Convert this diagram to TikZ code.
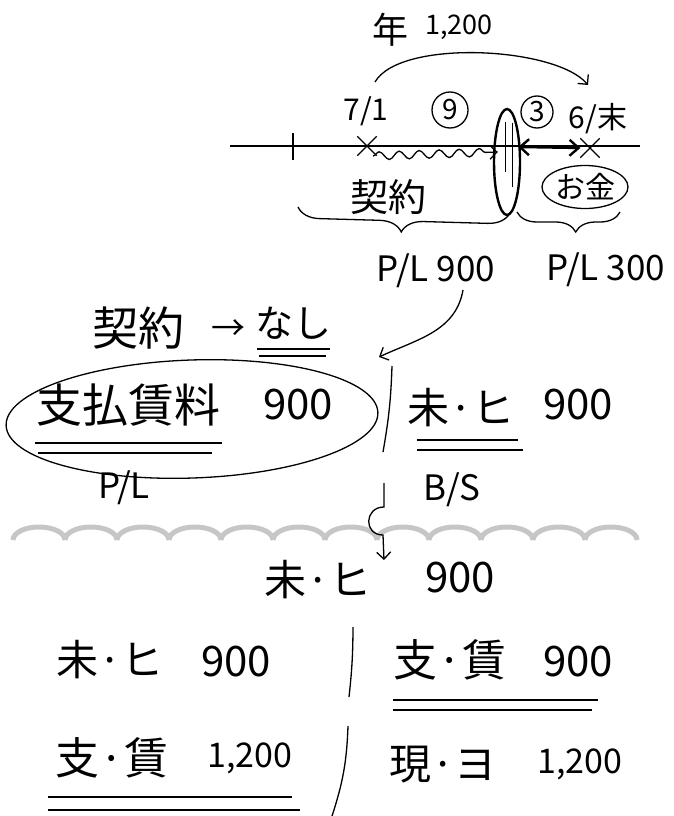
\documentclass[tikz,border=0pt]{standalone}
\usepackage{fontspec}
\setmainfont{Noto Sans CJK JP}
\usepackage{tikz}
\usetikzlibrary{arrows.meta,shapes.geometric,shapes.misc,decorations.pathmorphing,decorations.pathreplacing}

\begin{document}
\begin{tikzpicture}[x=1pt,y=1pt,
    >={Straight Barb[length=7pt,width=14pt]},
    pen/.style={line width=1.3pt},
    ul/.style={line width=2.4pt},
    txt/.style={inner sep=0pt,font=\fontsize{#1}{#1}\selectfont},
    txt/.default=40,
    mark x/.style={draw,pen,cross out,minimum size=18pt,inner sep=0pt}]
  \useasboundingbox (0,0) rectangle (673,-816);
  % time line
  \node[txt=36] (nen) at (390,-30) {年};
  \node[txt=27] (nenamt) at (459,-27) {1,200};
  \coordinate (a1) at (375,-82);
  \coordinate (a2) at (588,-85);
  \draw[pen,->] (a1) to[out=60,in=130,looseness=0.6] (a2);
  \node[txt=30] (d71) at (366,-111) {7/1};
  \node[txt=28,draw,pen,circle,minimum size=36pt] (c9) at (450,-110) {9};
  \node[txt=28,draw,pen,circle,minimum size=32pt] (c3) at (537,-112) {3};
  \node[txt=30] (d6) at (598,-119) {6/末};
  \coordinate (tl0) at (230,-146);
  \coordinate (tl1) at (640,-146);
  \draw[pen] (tl0) -- (tl1);
  \draw[pen] (293,-133) -- (293,-160);
  \node[mark x] (x71) at (367,-146) {};
  \node[mark x] (x6) at (590,-148) {};
  \node[draw,ellipse,line width=2.4pt,minimum width=26pt,minimum height=106pt,inner sep=0pt] (cut) at (507,-162) {};
  \draw[thin] (505,-122) -- (505,-172) (512,-123) -- (512,-187);
  \draw[pen,->,decorate,decoration={snake,amplitude=4pt,segment length=20pt,post length=8pt}]
    ([xshift=6pt,yshift=-10pt]x71.center) -- ([xshift=5pt,yshift=10pt]cut.west);
  \draw[line width=2.4pt,{Straight Barb[length=9pt,width=16pt]}-{Straight Barb[length=9pt,width=16pt]}]
    ([xshift=-3pt,yshift=15pt]cut.east) -- (x6.west);
  \node[txt=38] (keiyaku) at (388,-197) {契約};
  \node[txt=30,draw,pen,ellipse,minimum width=86pt,minimum height=43pt] (okane) at (585,-187) {お金};
  \draw[pen,decorate,decoration={brace,mirror,amplitude=22pt,aspect=0.49}] (298,-207) -- (510,-213);
  \draw[pen,decorate,decoration={brace,mirror,amplitude=20pt,aspect=0.57}] (517,-212) -- (620,-212);
  \node[txt=35] (pl900) at (436,-271) {P/L 900};
  \node[txt=35] (pl300) at (606,-270) {P/L 300};
  \coordinate (k0) at (463,-290);
  \coordinate (tip) at (379,-357);
  \draw[pen,->] (k0) to[out=-100,in=25] (tip);
  % upper T
  \node[txt=46] (keiyaku2) at (138,-328) {契約};
  \node[txt=34] (yaji) at (228,-330) {→};
  \node[txt=38] (nashi) at (293,-323) {なし};
  \node[txt=46] (shiharai) at (128,-405) {支払賃料};
  \node[txt=42] (s900) at (298,-405) {900};
  \draw[pen] (192,-419) ellipse[x radius=186,y radius=59,rotate=2];
  \node[txt=35] (pl) at (124,-488) {P/L};
  \draw[pen] (392,-366) to[bend left=4] (383,-452);
  \node[txt=42] (mihi) at (461,-408) {未·ヒ};
  \node[txt=42] (m900) at (578,-405) {900};
  \node[txt=35] (bs) at (452,-490) {B/S};
  \foreach \i in {0,...,11}
    \draw[gray!45,line width=5pt] ({13+52*\i},-540) arc[start angle=180,end angle=0,x radius=26,y radius=13];
  \coordinate (d0) at (384,-483);
  \coordinate (d1) at (384,-560);
  \draw[pen,->] (d0) -- ++(0,-24) to[out=180,in=180,looseness=1.8] ++(-1,-28) -- (d1);
  \node[txt=42] (mid1) at (318,-580) {未·ヒ};
  \node[txt=42] (mid2) at (460,-578) {900};
  % lower T
  \node[txt=42] (l1a) at (110,-660) {未·ヒ};
  \node[txt=42] (l1b) at (236,-662) {900};
  \node[txt=44] (r1a) at (450,-660) {支·賃};
  \node[txt=42] (r1b) at (578,-662) {900};
  \node[txt=44] (l2a) at (112,-758) {支·賃};
  \node[txt=34] (l2b) at (250,-758) {1,200};
  \node[txt=42] (r2a) at (443,-765) {現·ヨ};
  \node[txt=34] (r2b) at (580,-764) {1,200};
  \draw[pen] (353,-627) to[bend left=3] (349,-697);
  \draw[pen] (348,-726) to[bend left=8] (332,-816);
  \foreach \xa/\xb/\y in {257/330/349, 259/326/356, 35/222/443, 38/212/453, 417/518/440,
      417/523/450, 393/598/700, 393/592/710, 48/292/797, 48/300/810}
    \draw[ul] (\xa,-\y) -- (\xb,-\y);
\end{tikzpicture}
\end{document}
